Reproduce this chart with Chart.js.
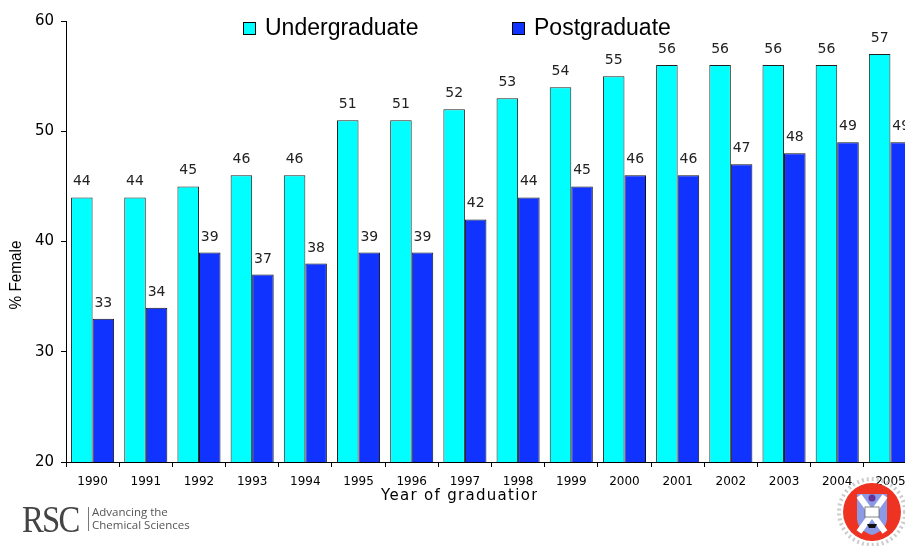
<!DOCTYPE html>
<html lang="en">
<head>
    <meta charset="UTF-8">
    <title>% Female by year of graduation</title>
    <script src="https://cdn.jsdelivr.net/npm/chart.js@4.4.1/dist/chart.umd.min.js"></script>
    <style>
        html, body { margin: 0; padding: 0; background: #fff; overflow: hidden; }
        #wrap { position: relative; width: 905px; height: 546px; overflow: hidden; }
        #chart { position: absolute; left: 0; top: 0; }
        .legend { position: absolute; top: 14px; font: 23px "Liberation Sans", Arial, sans-serif; color: #000; white-space: nowrap; }
        .legend i { position: absolute; top: 8px; width: 11px; height: 11px; border: 1px solid #000; }
        .legend span { position: absolute; left: 22px; top: 0; }
        #ytitle { position: absolute; left: -24px; top: 265px; width: 80px; text-align: center; color: #000;
                  font: 17px "Liberation Sans", Arial, sans-serif; transform: rotate(-90deg) scaleX(0.9); white-space: nowrap; }
        #xtitle { position: absolute; left: 381px; top: 486px; width: 156px; overflow: hidden; white-space: nowrap;
                  font: 15px "DejaVu Sans", Verdana, sans-serif; letter-spacing: 1.3px; color: #000; }
        #rsc { position: absolute; left: 22px; top: 497px; color: #444; }
        #rsc .big { position: absolute; left: 0; top: 0; font: 38px "Liberation Serif", serif; letter-spacing: -2px;
                    transform: scaleX(0.86); transform-origin: left top; }
        #rsc .bar { position: absolute; left: 66px; top: 10px; width: 1px; height: 24px; background: #777; }
        #rsc .small { position: absolute; left: 70px; top: 8px; font: 11.5px "Open Sans", sans-serif; line-height: 13px; white-space: nowrap; color: #555; }
        #crest { position: absolute; left: 830px; top: 472px; }
    </style>
</head>
<body>
<div id="wrap">
    <canvas id="chart" width="920" height="546"></canvas>

    <div class="legend" style="left:243px"><i style="background:#00ffff"></i><span>Undergraduate</span></div>
    <div class="legend" style="left:512px"><i style="background:#1133ff"></i><span>Postgraduate</span></div>

    <div id="ytitle">% Female</div>
    <div id="xtitle">Year of graduation</div>

    <div id="rsc">
        <div class="big">RSC</div>
        <div class="bar"></div>
        <div class="small">Advancing the<br>Chemical Sciences</div>
    </div>

    <svg id="crest" width="75" height="74" viewBox="0 0 75 74">
        <circle cx="42" cy="40" r="33" fill="none" stroke="#ccc" stroke-width="4" stroke-dasharray="2 3"/>
        <circle cx="42" cy="40" r="29" fill="#ee3322"/>
        <path d="M27 22 H57 V46 Q57 58 42 63 Q27 58 27 46 Z" fill="#8c9ae6"/>
        <path d="M29 24 L55 60 M55 24 L29 60" stroke="#fff" stroke-width="6"/>
        <circle cx="42" cy="26" r="3.5" fill="#663399"/>
        <rect x="35" y="35" width="14" height="10" fill="#fff" stroke="#666" stroke-width="0.8"/>
        <path d="M37 52 h10 l-2 4 h-6 z" fill="#111"/>
    </svg>
</div>

<script>
    // Años y porcentajes de mujeres graduadas
    const years = ['1990', '1991', '1992', '1993', '1994', '1995', '1996', '1997',
                   '1998', '1999', '2000', '2001', '2002', '2003', '2004', '2005'];
    const undergraduate = [44, 44, 45, 46, 46, 51, 51, 52, 53, 54, 55, 56, 56, 56, 56, 57];
    const postgraduate  = [33, 34, 39, 37, 38, 39, 39, 42, 44, 45, 46, 46, 47, 48, 49, 49];
    const yTicks = [20, 30, 40, 50, 60];

    // Escribe el valor encima de cada barra
    const valueLabels = {
        id: 'valueLabels',
        afterDatasetsDraw(chart) {
            const ctx = chart.ctx;
            ctx.save();
            ctx.font = '14px "DejaVu Sans", Verdana, sans-serif';
            ctx.fillStyle = '#222';
            ctx.textAlign = 'center';
            ctx.textBaseline = 'alphabetic';
            chart.data.datasets.forEach((ds, i) => {
                chart.getDatasetMeta(i).data.forEach((bar, j) => {
                    ctx.fillText(String(ds.data[j]), bar.x, bar.y - 12);
                });
            });
            ctx.restore();
        }
    };

    new Chart(document.getElementById('chart'), {
        type: 'bar',
        data: {
            labels: years,
            datasets: [
                { label: 'Undergraduate', data: undergraduate, backgroundColor: '#00ffff',
                  borderColor: '#222', borderWidth: 1 },
                { label: 'Postgraduate', data: postgraduate, backgroundColor: '#1133ff',
                  borderColor: '#111', borderWidth: 1 }
            ]
        },
        options: {
            responsive: false,
            animation: false,
            devicePixelRatio: 1,
            layout: { padding: { top: 21, right: 3, left: 0, bottom: 0 } },
            datasets: { bar: { categoryPercentage: 0.81, barPercentage: 1 } },
            plugins: { legend: { display: false }, tooltip: { enabled: false } },
            scales: {
                x: {
                    afterFit(scale) { scale.height = 84; },
                    border: { display: true, color: '#000', width: 1 },
                    grid: { display: true, drawOnChartArea: false, drawTicks: true, tickLength: 5,
                            color: '#000', offset: true },
                    ticks: { color: '#000', padding: 8, maxRotation: 0, autoSkip: false,
                             font: { family: '"DejaVu Sans", Verdana, sans-serif', size: 12 } }
                },
                y: {
                    min: yTicks[0],
                    max: yTicks[yTicks.length - 1],
                    afterFit(scale) { scale.width = 66; },
                    afterBuildTicks(scale) { scale.ticks = yTicks.map(v => ({ value: v })); },
                    border: { display: true, color: '#000', width: 1 },
                    grid: { display: true, drawOnChartArea: false, drawTicks: true, tickLength: 5, color: '#000' },
                    ticks: { color: '#000', padding: 7,
                             font: { family: '"DejaVu Sans", Verdana, sans-serif', size: 15 } }
                }
            }
        },
        plugins: [valueLabels]
    });
</script>
</body>
</html>
